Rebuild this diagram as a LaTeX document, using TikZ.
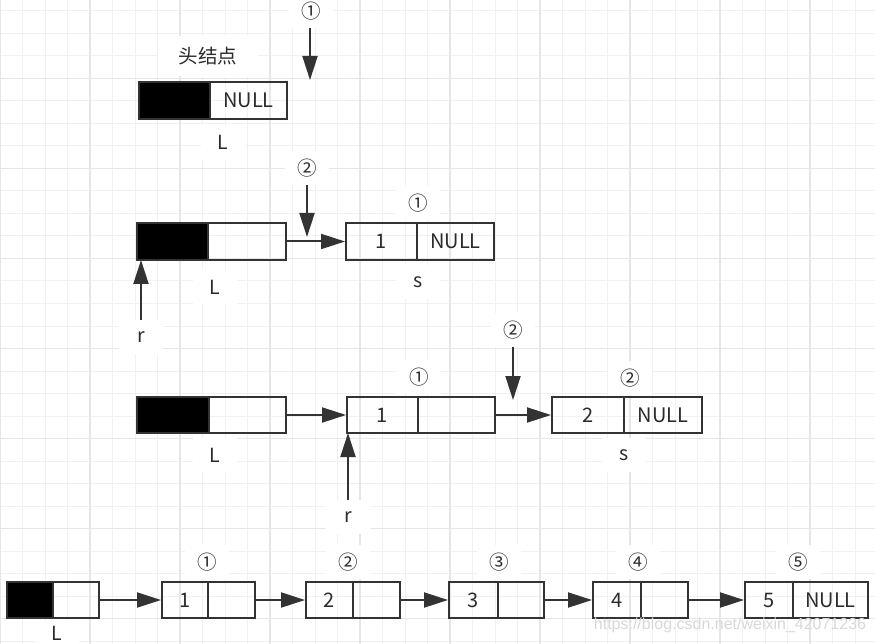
\documentclass[tikz,border=0pt]{standalone}
\usepackage{fontspec}
\setmainfont{Noto Sans CJK SC}
\newfontfamily\wmfont{Liberation Sans}
\usetikzlibrary{arrows.meta}
\definecolor{ink}{HTML}{333333}
\definecolor{txt}{HTML}{2B2B2B}
\definecolor{gminor}{HTML}{F1F1F1}
\definecolor{gmajor}{HTML}{E6E6E6}
\definecolor{wm}{HTML}{D8D8D8}
\begin{document}
\begin{tikzpicture}[x=1pt,y=-1pt,
  cell/.style={draw=ink, line width=2pt, inner sep=0pt, text=txt, font=\fontsize{20}{23}\selectfont},
  headcell/.style={cell, fill=black},
  lbl/.style={fill=white, text=txt, inner sep=0pt, minimum width=44pt, minimum height=34pt, font=\fontsize{19.5}{23}\selectfont},
  arr/.style={draw=ink, line width=2pt, -{Triangle[length=24pt,width=15pt]}},
  gmin/.style={draw=gminor, line width=1pt},
  gmaj/.style={draw=gmajor, line width=1.3pt},
  hA/.style={minimum height=37pt},
  hB/.style={minimum height=36pt},
]
\useasboundingbox (0,0) rectangle (875,644);
\fill[white] (0,0) rectangle (875,644);
% grid
\foreach \gx in {0,22.5,...,880} {\draw[gmin] (\gx,0) -- (\gx,644);}
\foreach \gy in {11,33.5,...,650} {\draw[gmin] (0,\gy) -- (875,\gy);}
\foreach \gx in {0,90,...,880} {\draw[gmaj] (\gx,0) -- (\gx,644);}
\foreach \gy in {78.5,168.5,...,650} {\draw[gmaj] (0,\gy) -- (875,\gy);}

% ---------- row 1 ----------
\node[lbl, minimum width=100pt, minimum height=40pt] (head) at (208,56) {头结点};
\node[headcell, hA, minimum width=71pt] (h1a) at (174.5,100.5) {};
\node[cell, hA, minimum width=77pt] (h1b) at (248.5,100.5) {NULL};
\node[lbl] (L1) at (223,142) {L};
\node[lbl] (t1) at (311,11) {①};
\coordinate (p1) at (310,80);
\draw[arr] (t1.south -| p1) -- (p1);

% ---------- row 2 ----------
\node[headcell, hA, minimum width=71pt] (h2a) at (172.5,241.5) {};
\node[cell, hA, minimum width=78pt] (h2b) at (247,241.5) {};
\node[cell, hA, minimum width=71pt] (s1a) at (381.5,241.5) {1};
\node[cell, hA, minimum width=77pt] (s1b) at (455.5,241.5) {NULL};
\node[lbl] (L2) at (215,287) {L};
\node[lbl] (c21) at (418,203) {①};
\node[lbl] (s2) at (418,282) {s};
\node[lbl] (t2) at (307,168) {②};
\coordinate (p2) at (307,237);
\draw[arr] (t2.south -| p2) -- (p2);
\draw[arr] (h2b.east) -- (s1a.west);
\node[lbl] (r2) at (141,337) {r};
\coordinate (q2) at (141,260);
\draw[arr] (r2.north) -- (q2);

% ---------- row 3 ----------
\node[headcell, hB, minimum width=72pt] (h3a) at (173,415) {};
\node[cell, hB, minimum width=77pt] (h3b) at (247.5,415) {};
\node[cell, hB, minimum width=71pt] (n3a) at (382.5,415) {1};
\node[cell, hB, minimum width=77pt] (n3b) at (456.5,415) {};
\node[cell, hB, minimum width=72pt] (m3a) at (588,415) {2};
\node[cell, hB, minimum width=78pt] (m3b) at (663,415) {NULL};
\draw[arr] (h3b.east) -- (n3a.west);
\draw[arr] (n3b.east) -- (m3a.west);
\node[lbl] (L3) at (215,455) {L};
\node[lbl] (c31) at (419,377) {①};
\node[lbl] (c32) at (630,378) {②};
\node[lbl] (s3) at (624,455) {s};
\node[lbl] (t3) at (513,330) {②};
\coordinate (p3) at (513,400);
\draw[arr] (t3.south -| p3) -- (p3);
\node[lbl] (r3) at (348,517) {r};
\coordinate (q3) at (348,433);
\draw[arr] (r3.north) -- (q3);

% ---------- row 4 ----------
\node[headcell, hB, minimum width=46pt] (h4a) at (30,600) {};
\node[cell, hB, minimum width=46pt] (h4b) at (76,600) {};
\node[cell, hB, minimum width=46pt] (a1) at (185,600) {1};
\node[cell, hB, minimum width=47pt] (b1) at (231.5,600) {};
\node[cell, hB, minimum width=47pt] (a2) at (329.5,600) {2};
\node[cell, hB, minimum width=47pt] (b2) at (376.5,600) {};
\node[cell, hB, minimum width=49pt] (a3) at (473.5,600) {3};
\node[cell, hB, minimum width=46pt] (b3) at (521,600) {};
\node[cell, hB, minimum width=48pt] (a4) at (617,600) {4};
\node[cell, hB, minimum width=47pt] (b4) at (664.5,600) {};
\node[cell, hB, minimum width=48pt] (a5) at (769,600) {5};
\node[cell, hB, minimum width=75pt] (b5) at (830.5,600) {NULL};
\draw[arr] (h4b.east) -- (a1.west);
\draw[arr] (b1.east) -- (a2.west);
\draw[arr] (b2.east) -- (a3.west);
\draw[arr] (b3.east) -- (a4.west);
\draw[arr] (b4.east) -- (a5.west);
\node[lbl, minimum height=24pt] (L4) at (57,633) {L};
\node[lbl] (k1) at (207,562) {①};
\node[lbl] (k2) at (348,562) {②};
\node[lbl] (k3) at (499,562) {③};
\node[lbl] (k4) at (638,562) {④};
\node[lbl] (k5) at (798,562) {⑤};

\node[font=\wmfont\fontsize{16}{18}\selectfont, text=wm, inner sep=0pt] (wmk) at (730,625) {https://blog.csdn.net/weixin\_42071236};
\end{tikzpicture}
\end{document}
